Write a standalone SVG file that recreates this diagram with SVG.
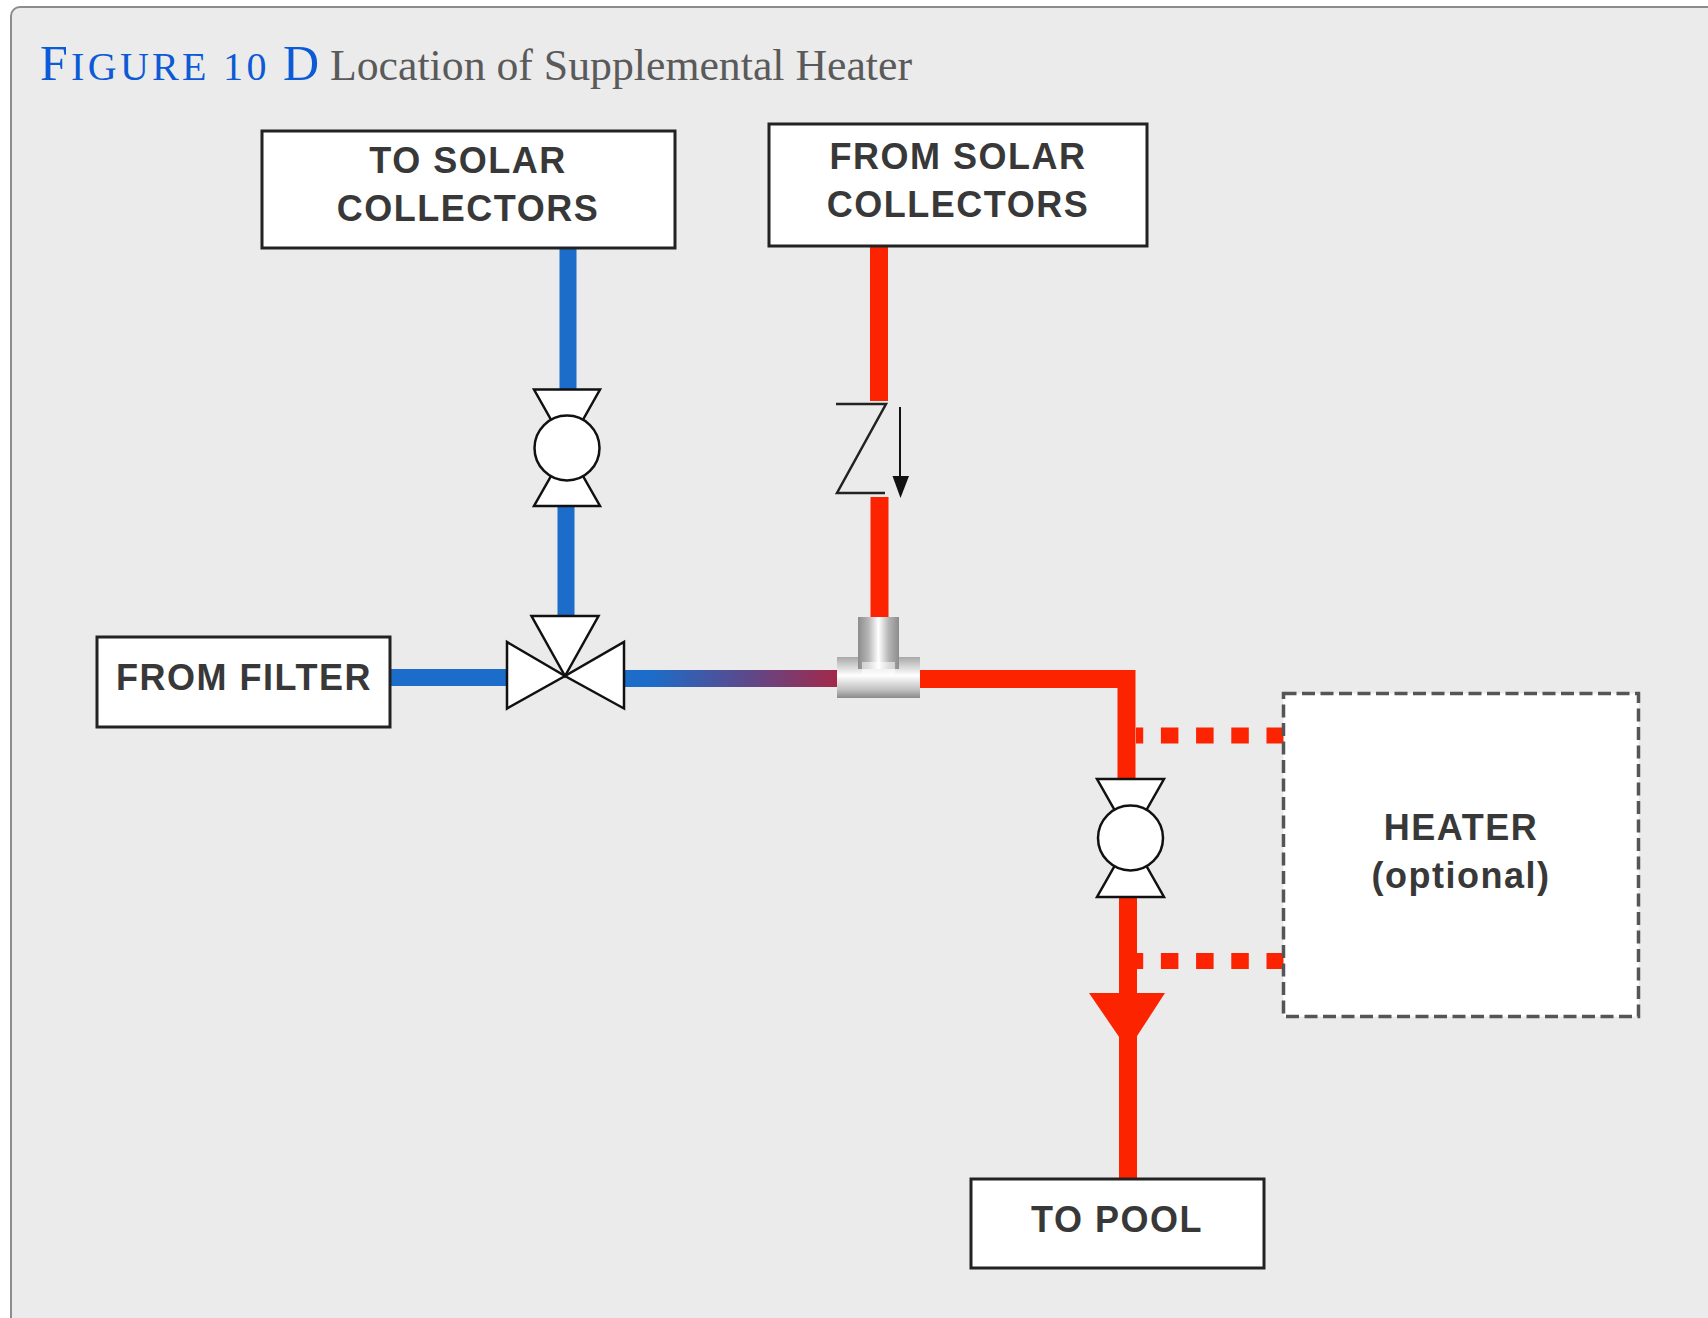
<svg xmlns="http://www.w3.org/2000/svg" width="1708" height="1318" viewBox="0 0 1708 1318">
<style>
.box{fill:#ffffff;stroke:#222222;stroke-width:3}
.lbl{font-family:"Liberation Sans",Arial,sans-serif;font-weight:bold;font-size:36px;fill:#383838;text-anchor:middle;letter-spacing:1.5px}
.valve{fill:#ffffff;stroke:#111111;stroke-width:2.5;stroke-linejoin:miter}
.blue{stroke:#1b6dc9;stroke-width:17;fill:none}
.red{stroke:#fc2300;stroke-width:18;fill:none}
.dots{stroke:#fc2300;stroke-width:16;fill:none;stroke-dasharray:17.5 17.7}
</style>
<defs>
<linearGradient id="mix" gradientUnits="userSpaceOnUse" x1="650" y1="0" x2="837" y2="0">
<stop offset="0" stop-color="#1b6dc9"/>
<stop offset="0.5" stop-color="#5a4a8e"/>
<stop offset="1" stop-color="#a3294a"/>
</linearGradient>
<linearGradient id="stemG" x1="0" y1="0" x2="1" y2="0">
<stop offset="0" stop-color="#8c8c8c"/>
<stop offset="0.25" stop-color="#b5b5b5"/>
<stop offset="0.5" stop-color="#ffffff"/>
<stop offset="0.75" stop-color="#b5b5b5"/>
<stop offset="1" stop-color="#8c8c8c"/>
</linearGradient>
<linearGradient id="barG" x1="0" y1="0" x2="0" y2="1">
<stop offset="0" stop-color="#a8a8a8"/>
<stop offset="0.45" stop-color="#ffffff"/>
<stop offset="0.8" stop-color="#c0c0c0"/>
<stop offset="1" stop-color="#8a8a8a"/>
</linearGradient>
</defs>

<rect x="0" y="0" width="1708" height="1318" fill="#ffffff"/>
<rect id="frame" x="11" y="7" width="1720" height="1340" rx="9" fill="#ebebeb" stroke="#8c8c8c" stroke-width="2"/>

<g id="title">
<text x="40" y="80" font-family="'Liberation Serif',Georgia,serif" fill="#0d5ad6" letter-spacing="3.3"><tspan font-size="50">F</tspan><tspan font-size="40">IGURE 10 </tspan><tspan font-size="50">D</tspan></text>
<text x="330" y="80" font-family="'Liberation Serif',Georgia,serif" font-size="45" fill="#5a5a5a" textLength="582" lengthAdjust="spacingAndGlyphs">Location of Supplemental Heater</text>
</g>

<g id="connectors">
<line class="blue" x1="568" y1="248" x2="568" y2="392"/>
<line class="blue" x1="566" y1="504" x2="566" y2="618"/>
<line class="blue" x1="390" y1="677.5" x2="508" y2="677.5"/>
<line x1="622" y1="678.5" x2="838" y2="678.5" stroke="url(#mix)" stroke-width="17"/>
<line class="red" x1="879" y1="246" x2="879" y2="401"/>
<line class="red" x1="879.5" y1="497" x2="879.5" y2="619"/>
<polyline class="red" points="918,679 1126.5,679 1126.5,782" stroke-width="19"/>
<line class="red" x1="1128" y1="894" x2="1128" y2="1179" stroke-width="18"/>
<polygon points="1089,993 1165,993 1128,1050" fill="#fc2300"/>
<line class="dots" x1="1284" y1="735.5" x2="1136" y2="735.5"/>
<line class="dots" x1="1284" y1="961" x2="1136" y2="961"/>
</g>

<g id="to-solar">
<rect class="box" x="262" y="131" width="413" height="117"/>
<text class="lbl" x="468" y="173">TO SOLAR</text>
<text class="lbl" x="468" y="221">COLLECTORS</text>
</g>

<g id="from-solar">
<rect class="box" x="769" y="124" width="378" height="122"/>
<text class="lbl" x="958" y="169">FROM SOLAR</text>
<text class="lbl" x="958" y="217">COLLECTORS</text>
</g>

<g id="from-filter">
<rect class="box" x="97" y="637" width="293" height="90"/>
<text class="lbl" x="244" y="690">FROM FILTER</text>
</g>

<g id="to-pool">
<rect class="box" x="971" y="1179" width="293" height="89"/>
<text class="lbl" x="1117" y="1232">TO POOL</text>
</g>

<g id="heater">
<rect x="1283.5" y="693.5" width="355" height="323" fill="#ffffff" stroke="#555555" stroke-width="3.5" stroke-dasharray="13 5.5"/>
<text class="lbl" x="1461" y="840">HEATER</text>
<text class="lbl" x="1461" y="888">(optional)</text>
</g>

<g id="valve-top">
<polygon class="valve" points="534,389.5 600,389.5 567,448"/>
<polygon class="valve" points="534,506 600,506 567,448"/>
<circle class="valve" cx="567" cy="448" r="32.5"/>
</g>

<g id="valve-three-way">
<polygon class="valve" points="531.5,616 598.5,616 565,676"/>
<polygon class="valve" points="507,642 507,708.5 565,676"/>
<polygon class="valve" points="624,642 624,708.5 565,676"/>
</g>

<g id="check-valve">
<polyline points="836,404 886,404 837,493 885,493" fill="none" stroke="#222222" stroke-width="2.5"/>
<line x1="900" y1="407" x2="900" y2="478" stroke="#111111" stroke-width="2"/>
<polygon points="892.5,476 909,476 900.5,498" fill="#111111"/>
</g>

<g id="tee">
<rect x="837" y="657" width="83" height="41" fill="url(#barG)"/>
<rect x="858" y="617" width="41" height="52" fill="url(#stemG)"/>
<rect x="862" y="662" width="33" height="12" fill="#ffffff" opacity="0.55"/>
</g>

<g id="valve-bottom">
<polygon class="valve" points="1097,779 1164,779 1130.5,838"/>
<polygon class="valve" points="1097,897 1164,897 1130.5,838"/>
<circle class="valve" cx="1130.5" cy="838" r="32.5"/>
</g>
</svg>
